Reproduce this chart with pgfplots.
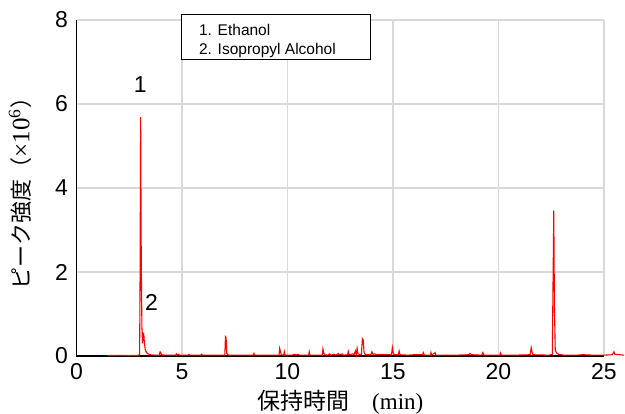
\documentclass[border=0pt]{standalone}
\usepackage{pgfplots}
\pgfplotsset{compat=1.18}
\usepackage{fontspec}
\setmainfont{Liberation Sans}
\newfontfamily\jp{Noto Sans CJK JP}
\newfontfamily\serif{Liberation Serif}
\definecolor{gridgray}{RGB}{217,217,217}
\begin{document}
\begin{tikzpicture}
\useasboundingbox (-76.5pt,-58pt) rectangle (548.5pt,356pt);
\begin{axis}[
  scale only axis, width=527.5pt, height=336pt,
  xmin=0, xmax=25, ymin=0, ymax=8,
  xtick={0,5,10,15,20,25}, ytick={0,2,4,6,8},
  grid=major, major grid style={draw=gridgray, line width=1.2pt},
  axis x line*=bottom, axis y line*=left,
  axis line style={black, line width=1.5pt},
  tick style={draw=none},
  ticklabel style={font=\fontsize{23}{27}\selectfont},
  xticklabel style={yshift=-4pt},
  yticklabel style={xshift=-5pt},
  /pgf/number format/assume math mode=true,
  clip=false,
  xlabel={{\jp 保持時間\hspace{1em}}{\serif (min)}},
  ylabel={{\jp ピーク強度（}{\serif\fontsize{25}{28}\selectfont ×10\textsuperscript{6}}{\jp ）}},
  xlabel style={at={(axis description cs:0.5,-0.158)}, anchor=base, font=\fontsize{23}{27}\selectfont},
  ylabel style={at={(axis description cs:-0.107,0.5)}, anchor=center, font=\fontsize{22}{26}\selectfont},
]
\addplot[black, line width=1.5pt] coordinates {(0,0) (25,0)};
\addplot[red, line width=1.1pt] coordinates {
(1.47,0.01)(2.0,0.015)(2.5,0.01)(2.9,0.015)(2.99,0.03)(3.01,1.5)(3.04,5.69)(3.07,2.2)(3.1,0.7)(3.13,0.3)(3.16,0.54)(3.19,0.52)(3.22,0.3)(3.26,0.15)(3.32,0.08)(3.4,0.05)(3.5,0.03)(3.7,0.02)(3.93,0.02)(3.96,0.1)(3.99,0.09)(4.02,0.03)(4.2,0.02)(4.5,0.02)(4.7,0.02)(4.73,0.05)(4.76,0.02)(4.85,0.04)(4.88,0.02)(5.3,0.02)(5.33,0.04)(5.36,0.02)(5.9,0.02)(5.93,0.04)(5.96,0.02)(6.5,0.02)(7.03,0.02)(7.06,0.46)(7.09,0.44)(7.12,0.06)(7.2,0.02)(7.6,0.02)(8.38,0.02)(8.41,0.06)(8.44,0.02)(9.0,0.02)(9.6,0.02)(9.63,0.18)(9.66,0.12)(9.7,0.03)(9.82,0.02)(9.85,0.1)(9.88,0.02)(10.2,0.02)(10.35,0.04)(10.4,0.02)(10.5,0.04)(10.55,0.02)(11.0,0.02)(11.03,0.1)(11.06,0.02)(11.65,0.02)(11.68,0.17)(11.71,0.1)(11.75,0.03)(11.9,0.02)(12.0,0.05)(12.05,0.02)(12.2,0.04)(12.3,0.02)(12.4,0.06)(12.45,0.03)(12.6,0.05)(12.65,0.02)(12.85,0.03)(12.88,0.11)(12.92,0.03)(13.1,0.05)(13.15,0.03)(13.22,0.12)(13.26,0.03)(13.3,0.18)(13.34,0.05)(13.5,0.03)(13.55,0.41)(13.59,0.38)(13.63,0.08)(13.7,0.03)(13.95,0.03)(14.0,0.1)(14.05,0.04)(14.15,0.05)(14.2,0.03)(14.5,0.04)(14.6,0.03)(14.93,0.03)(14.97,0.2)(15.01,0.08)(15.05,0.03)(15.25,0.03)(15.29,0.12)(15.33,0.03)(15.7,0.02)(16.0,0.03)(16.4,0.03)(16.44,0.08)(16.48,0.02)(16.78,0.02)(16.8,0.08)(16.83,0.02)(17.0,0.08)(17.03,0.02)(17.5,0.02)(18.0,0.02)(18.6,0.03)(18.65,0.06)(18.72,0.03)(19.2,0.02)(19.26,0.08)(19.3,0.02)(20.07,0.02)(20.1,0.07)(20.13,0.02)(20.8,0.02)(21.5,0.03)(21.55,0.2)(21.59,0.1)(21.63,0.03)(22.4,0.02)(22.55,0.04)(22.58,1.5)(22.62,3.46)(22.65,1.2)(22.69,0.15)(22.75,0.07)(22.85,0.04)(23.1,0.02)(23.7,0.02)(24.0,0.03)(24.5,0.02)(25.0,0.02)(25.4,0.03)(25.47,0.1)(25.52,0.04)(25.95,0.02)
};
\draw[black, line width=1pt, fill=white] (axis cs:5,8.14) rectangle (axis cs:13.93,7.05);
\node[anchor=base west, inner sep=0pt, font=\fontsize{15.5}{18}\selectfont] at (axis cs:5.8,7.64) {1. Ethanol};
\node[anchor=base west, inner sep=0pt, font=\fontsize{15.5}{18}\selectfont] at (axis cs:5.8,7.19) {2. Isopropyl Alcohol};
\node[anchor=base, inner sep=0pt, font=\fontsize{23}{27}\selectfont] at (axis cs:3.02,6.27) {1};
\node[anchor=base, inner sep=0pt, font=\fontsize{23}{27}\selectfont] at (axis cs:3.55,1.095) {2};
\end{axis}
\end{tikzpicture}
\end{document}
